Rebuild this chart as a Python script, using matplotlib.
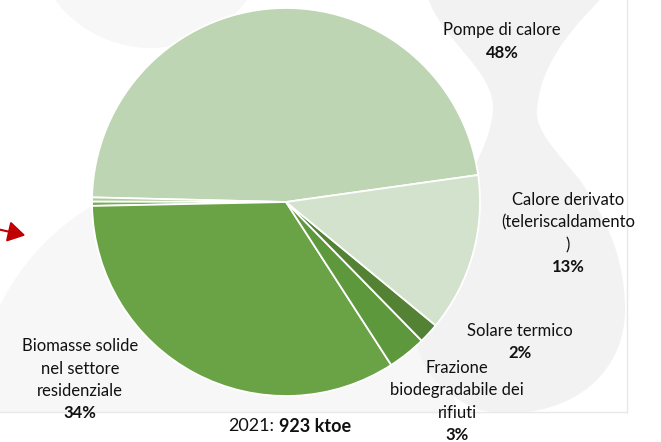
import numpy as np
import matplotlib.pyplot as plt
from matplotlib.patches import Circle, PathPatch
from matplotlib.path import Path

plt.rcParams['font.family'] = ['Lato', 'DejaVu Sans']

# Dati: ripartizione del calore rinnovabile, 2021
fonti = ['Pompe di calore', 'Altro A', 'Altro B',
         'Biomasse solide\nnel settore\nresidenziale',
         'Frazione\nbiodegradabile dei\nrifiuti',
         'Solare termico',
         'Calore derivato\n(teleriscaldamento\n)']
quote = [47.4, 0.35, 0.35, 33.8, 3.2, 1.7, 13.2]
etichette_pct = ['48%', '', '', '34%', '3%', '2%', '13%']
anno = '2021:'
totale = '923 ktoe'

colori = ['#BDD5B3', '#A9CB98', '#78AE55', '#6AA345', '#5E983C', '#548235', '#D3E2CD']

# posizione etichette (pixel, centro della prima riga)
pos_etichette = [(502, 30), None, None, (80, 346), (457, 368), (520, 331), (568, 200)]
passo = 22.5

W, H = 661, 442
fig = plt.figure(figsize=(W / 100, H / 100), dpi=100)

# sfondo decorativo
bg = fig.add_axes([0, (H - 412) / H, 627 / W, 412 / H])
bg.set_xlim(0, 627)
bg.set_ylim(412, 0)
bg.set_xticks([])
bg.set_yticks([])
for s in ['top', 'left']:
    bg.spines[s].set_visible(False)
for s in ['bottom', 'right']:
    bg.spines[s].set_color('#E8E8E8')
    bg.spines[s].set_linewidth(1)

bg.add_patch(Circle((151, -72), 120, color='#F7F7F7', lw=0))
bg.add_patch(Circle((215, 412), 240, color='#F8F7F7', lw=0))
verts = [(427, -5),
         (440, 40), (495, 70), (493, 110),
         (490, 150), (460, 190), (440, 230),
         (400, 300), (400, 380), (480, 410),
         (560, 425), (625, 380), (625, 310),
         (625, 250), (600, 210), (580, 180),
         (555, 150), (535, 130), (537, 110),
         (540, 60), (580, 20), (605, -5),
         (427, -5)]
codes = [Path.MOVETO] + [Path.CURVE4] * 21 + [Path.CLOSEPOLY]
bg.add_patch(PathPatch(Path(verts, codes), facecolor='#F2F2F2', lw=0))

# freccia rossa
bg.annotate('', xy=(28, 236), xytext=(-3, 229),
            arrowprops=dict(arrowstyle='-|>,head_length=0.75,head_width=0.45',
                            color='#C00000', lw=1.5, mutation_scale=14))

# grafico a torta
cx, cy, r = 286, 202, 194
ax = fig.add_axes([(cx - r) / W, (H - cy - r) / H, 2 * r / W, 2 * r / H])
ax.pie(quote, colors=colori, startangle=8, counterclock=True,
       wedgeprops=dict(edgecolor='white', linewidth=1.3))
ax.set_xlim(-1, 1)
ax.set_ylim(-1, 1)
ax.set_aspect('equal')

# etichette
for nome, pct, pos in zip(fonti, etichette_pct, pos_etichette):
    if pos is None:
        continue
    x, y = pos
    righe = nome.split('\n')
    for i, riga in enumerate(righe):
        bg.text(x, y + i * passo, riga, ha='center', va='center',
                fontsize=12, color='#111111')
    bg.text(x, y + len(righe) * passo, pct, ha='center', va='center',
            fontsize=12, fontweight='bold', color='#111111')

bg.text(274, 426, anno, ha='right', va='center', fontsize=13, color='#111111')
bg.text(279, 426, totale, ha='left', va='center', fontsize=13,
        fontweight='bold', color='#111111')

fig.savefig('out.png', dpi=100)
